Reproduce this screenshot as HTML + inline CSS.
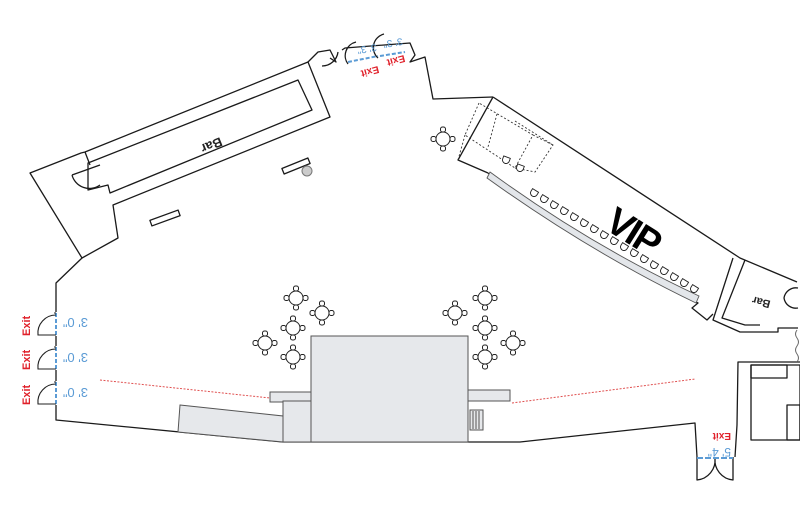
<!DOCTYPE html>
<html><head><meta charset="utf-8"><style>
html,body{margin:0;padding:0;background:#fff;}
svg{display:block}
text{font-family:"Liberation Sans",sans-serif;}
</style></head><body>
<svg width="800" height="512" viewBox="0 0 800 512" xmlns="http://www.w3.org/2000/svg">
<defs>
<g id="tb" fill="#fff" stroke="#222" stroke-width="1">
<rect x="-2.5" y="-12" width="5" height="5" rx="2"/>
<rect x="-2.5" y="7" width="5" height="5" rx="2"/>
<rect x="-12" y="-2.5" width="5" height="5" rx="2"/>
<rect x="7" y="-2.5" width="5" height="5" rx="2"/>
<circle r="7"/>
</g>
<path id="ch" d="M-3.5,-3 h7 v3 a3.5,3.5 0 0 1 -7,0 z" fill="#fff" stroke="#222" stroke-width="0.9"/>
<g id="dl" fill="none" stroke="#222" stroke-width="1.1">
<line x1="0" y1="0" x2="0" y2="22" stroke="#5b9bd5" stroke-width="2" stroke-dasharray="4,2"/>
<path d="M0,0 h-2 M0,22 h-18 a18,18 0 0 1 18,-20"/>
</g>
</defs>
<g fill="none" stroke="#1a1a1a" stroke-width="1.3" stroke-linejoin="round">
<polygon points="30,173 81,153 85,152 308,62 330,117 113,205 118,238 82,258"/>
<polygon points="88,163 298,80 312,110 110,193 108,185 88,190"/>
<line x1="85" y1="152" x2="90" y2="165"/>
<path d="M100,185 a18,18 0 0 1 -28,-10 M72,175 l28,-10"/>
<polyline points="82,258 56,283 56,312"/>
<polyline points="56,336 56,346"/>
<polyline points="56,370 56,381"/>
<polyline points="56,405 56,420 283,442 520,442 695,423 697,457"/>
<polyline points="735,457 737,425 738,362 800,362"/>
<polyline points="308,62 318,52 330,50 336,62 330,58"/>
<path d="M322,66 a16,16 0 0 0 16,-14" />
<polyline points="342,50 345,48 410,43 415,55 410,62 425,57 433,99 493,97"/>
<path d="M348,64 a14,14 0 0 1 8,-22 M378,58 a14,14 0 0 1 6,-24"/>
<polyline points="493,97 740,258 797,282"/>
<polyline points="493,97 458,160 488,173"/>
<path d="M488,173 Q590,250 698,303 L692,308 L707,320 L713,314"/>
<polyline points="733,258 713,320 740,332 778,332 778,328 798,328"/>
<polyline points="745,260 722,318 745,325 760,325"/>
<path d="M798,288 a12,12 0 0 0 -14,10 a12,12 0 0 0 14,10"/>
<rect x="751" y="365" width="49" height="75"/>
<rect x="751" y="365" width="36" height="13"/>
<rect x="787" y="405" width="13" height="35"/>
<path d="M697,457 v23 a20,20 0 0 0 18,-22 M733,457 v23 a20,20 0 0 1 -18,-22"/>
<rect x="282" y="163" width="28" height="6" transform="rotate(-22 296 166)"/>
<rect x="150" y="215" width="30" height="6" transform="rotate(-20 165 218)"/>
</g>
<circle cx="307" cy="171" r="5" fill="#ccc" stroke="#777"/>
<g fill="none" stroke="#333" stroke-width="0.9" stroke-dasharray="2,2">
<path d="M479,103 L465,135 L515,168 L533,135 Z M465,135 L458,160 M497,114 L488,147 M515,121 L553,145 L535,172 L515,168 M533,135 L553,145"/>
</g>
<path d="M490,172 Q590,245 699,296 L696,303 Q590,252 487,178 Z" fill="#e3e6ea" stroke="#555" stroke-width="0.9"/>
<g>
<use href="#ch" transform="translate(506,160) rotate(20)"/>
<use href="#ch" transform="translate(520,168) rotate(20)"/>
</g>
<g>
<use href="#ch" transform="translate(534,193) rotate(32)"/>
<use href="#ch" transform="translate(544,199) rotate(32)"/>
<use href="#ch" transform="translate(554,205) rotate(32)"/>
<use href="#ch" transform="translate(564,211) rotate(32)"/>
<use href="#ch" transform="translate(574,217) rotate(32)"/>
<use href="#ch" transform="translate(584,223) rotate(32)"/>
<use href="#ch" transform="translate(594,229) rotate(32)"/>
<use href="#ch" transform="translate(604,235) rotate(32)"/>
<use href="#ch" transform="translate(614,241) rotate(32)"/>
<use href="#ch" transform="translate(624,247) rotate(32)"/>
<use href="#ch" transform="translate(634,253) rotate(32)"/>
<use href="#ch" transform="translate(644,259) rotate(32)"/>
<use href="#ch" transform="translate(654,265) rotate(32)"/>
<use href="#ch" transform="translate(664,271) rotate(32)"/>
<use href="#ch" transform="translate(674,277) rotate(32)"/>
<use href="#ch" transform="translate(684,283) rotate(32)"/>
<use href="#ch" transform="translate(694,289) rotate(32)"/>
</g>
<text x="0" y="0" font-size="38" font-weight="bold" fill="#000" transform="translate(603,228) rotate(32)" style="letter-spacing:-2px">VIP</text>
<use href="#tb" x="443" y="139"/>
<use href="#tb" x="296" y="298"/><use href="#tb" x="322" y="313"/><use href="#tb" x="293" y="328"/><use href="#tb" x="265" y="343"/><use href="#tb" x="293" y="357"/>
<use href="#tb" x="485" y="298"/><use href="#tb" x="455" y="313"/><use href="#tb" x="485" y="328"/><use href="#tb" x="513" y="343"/><use href="#tb" x="485" y="357"/>
<g fill="#e6e8eb" stroke="#555" stroke-width="1">
<polygon points="180,405 283,416 283,442 178,432"/>
<rect x="270" y="392" width="41" height="10"/>
<rect x="283" y="401" width="28" height="41"/>
<rect x="311" y="336" width="157" height="106"/>
<rect x="468" y="390" width="42" height="11"/>
<rect x="470" y="410" width="13" height="20"/>
<path d="M473,411 v18 M476,411 v18 M479,411 v18" fill="none"/>
</g>
<path d="M100,380 l170,18 M512,403 l183,-24" stroke="#e05050" stroke-width="1" stroke-dasharray="2,1.5" fill="none"/>
<use href="#dl" x="56" y="313"/><use href="#dl" x="56" y="347"/><use href="#dl" x="56" y="382"/>
<g fill="#e0202a" font-size="11" font-weight="bold">
<text transform="translate(30,336) rotate(-90)">Exit</text>
<text transform="translate(30,370) rotate(-90)">Exit</text>
<text transform="translate(30,405) rotate(-90)">Exit</text>
</g>
<g fill="#5b9bd5" font-size="13">
<text transform="translate(88,318) rotate(180)">3' 0"</text>
<text transform="translate(88,353) rotate(180)">3' 0"</text>
<text transform="translate(88,388) rotate(180)">3' 0"</text>
</g>
<path d="M348,62 l30,-6 M380,56 l25,-4" stroke="#5b9bd5" stroke-width="2" stroke-dasharray="4,2"/>
<g fill="#5b9bd5" font-size="10">
<text transform="translate(376,44) rotate(170)">3' 3"</text>
<text transform="translate(402,38) rotate(170)">3' 3"</text>
</g>
<g fill="#e0202a" font-size="10" font-weight="bold">
<text transform="translate(378,66) rotate(165)">Exit</text>
<text transform="translate(404,55) rotate(165)">Exit</text>
</g>
<path d="M697,458 h36" stroke="#5b9bd5" stroke-width="2" stroke-dasharray="6,2"/>
<text transform="translate(731,448) rotate(180)" fill="#5b9bd5" font-size="12">5' 4"</text>
<text transform="translate(731,433) rotate(180)" fill="#e0202a" font-size="10" font-weight="bold">Exit</text>
<text transform="translate(220,137) rotate(158)" font-size="13" font-weight="bold" fill="#222">Bar</text>
<text transform="translate(771,301) rotate(195)" font-size="11" font-weight="bold" fill="#222">Bar</text>
<path d="M797,330 q-3,4 0,8 q3,4 0,8 q-3,4 0,8 q3,4 0,8" stroke="#666" fill="none"/>
</svg>
</body></html>
